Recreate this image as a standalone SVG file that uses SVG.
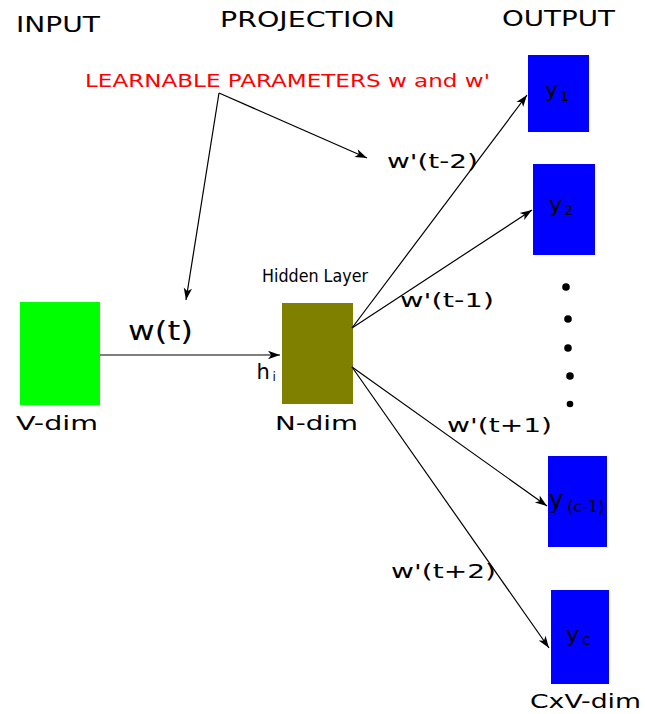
<svg xmlns="http://www.w3.org/2000/svg" width="645" height="714" viewBox="0 0 645 714">
<style>
text{font-family:"DejaVu Sans","Liberation Sans",sans-serif;fill:#000}
.hd{font-size:21px}
.lb{font-size:20px}
.yl{font-size:22px}
.sub{font-size:14px}
.cn{stroke:#000;stroke-width:1.2;fill:none;marker-end:url(#ah)}
</style>
<defs>
<marker id="ah" markerWidth="14" markerHeight="10" refX="12" refY="5" orient="auto" markerUnits="userSpaceOnUse" overflow="visible">
<path d="M0,0.8 L12,5 L0,9.2 L3.2,5 Z" fill="#000"/>
</marker>
</defs>
<rect width="645" height="714" fill="#fff"/>
<g id="headers">
<text class="hd" x="16" y="31.5" textLength="84" lengthAdjust="spacingAndGlyphs">INPUT</text>
<text class="hd" x="220" y="27.3" textLength="175" lengthAdjust="spacingAndGlyphs">PROJECTION</text>
<text class="hd" x="502" y="26" textLength="113" lengthAdjust="spacingAndGlyphs">OUTPUT</text>
</g>
<g id="learnable">
<text x="85" y="87.3" font-size="17" style="fill:#ff0000" textLength="405" lengthAdjust="spacingAndGlyphs">LEARNABLE PARAMETERS w and w'</text>
</g>
<g id="input">
<rect x="20" y="302" width="80" height="103" fill="#00ff00"/>
<text class="lb" x="16" y="429.5" textLength="82" lengthAdjust="spacingAndGlyphs">V-dim</text>
</g>
<g id="hidden">
<rect x="282" y="303" width="71" height="101" fill="#808000"/>
<text x="262" y="281.7" font-size="18" style="font-family:'DejaVu Sans Condensed','DejaVu Sans',sans-serif" textLength="106" lengthAdjust="spacingAndGlyphs">Hidden Layer</text>
<text x="256.5" y="378.5" font-size="21">h</text>
<text x="272.5" y="381" font-size="12">i</text>
<text class="lb" x="275" y="429.5" textLength="83" lengthAdjust="spacingAndGlyphs">N-dim</text>
</g>
<g id="y1">
<rect x="528" y="55" width="61" height="77" fill="#0000ff"/>
<text class="yl" x="545" y="97">y</text>
<text class="sub" x="560" y="101">1</text>
</g>
<g id="y2">
<rect x="533" y="164" width="62" height="91" fill="#0000ff"/>
<text class="yl" x="549" y="211.5">y</text>
<text class="sub" x="564" y="215">2</text>
</g>
<g id="dots">
<circle cx="566" cy="287" r="3.8" fill="#000"/>
<circle cx="568" cy="319" r="3.8" fill="#000"/>
<circle cx="568" cy="348" r="3.8" fill="#000"/>
<circle cx="570" cy="376" r="3.8" fill="#000"/>
<circle cx="570" cy="404" r="3.3" fill="#000"/>
</g>
<g id="yc1">
<rect x="548" y="456" width="59" height="91" fill="#0000ff"/>
<text x="549" y="508" font-size="24">y</text>
<text x="567" y="512" font-size="16">(c-1)</text>
</g>
<g id="yc">
<rect x="551" y="590" width="58" height="94" fill="#0000ff"/>
<text x="566" y="642" font-size="22">y</text>
<text x="582" y="645" font-size="15">c</text>
</g>
<g id="output-dim">
<text x="530" y="708" font-size="19" textLength="111" lengthAdjust="spacingAndGlyphs">CxV-dim</text>
</g>
<g id="connectors">
<line class="cn" x1="100" y1="355" x2="280" y2="355"/>
<line class="cn" x1="219" y1="93" x2="186" y2="300"/>
<line class="cn" x1="219" y1="93" x2="367" y2="158"/>
<line class="cn" x1="352" y1="328" x2="527" y2="95"/>
<line class="cn" x1="352" y1="328" x2="532" y2="210"/>
<line class="cn" x1="352" y1="367" x2="547" y2="506"/>
<line class="cn" x1="352" y1="367" x2="549" y2="648"/>
</g>
<g id="labels">
<text x="128" y="340" font-size="26" textLength="65" lengthAdjust="spacingAndGlyphs">w(t)</text>
<text class="lb" x="387" y="168" textLength="91" lengthAdjust="spacingAndGlyphs">w'(t-2)</text>
<text class="lb" x="400" y="307" textLength="94" lengthAdjust="spacingAndGlyphs">w'(t-1)</text>
<text class="lb" x="447" y="432" textLength="105" lengthAdjust="spacingAndGlyphs">w'(t+1)</text>
<text class="lb" x="391" y="578" textLength="105" lengthAdjust="spacingAndGlyphs">w'(t+2)</text>
</g>
</svg>
